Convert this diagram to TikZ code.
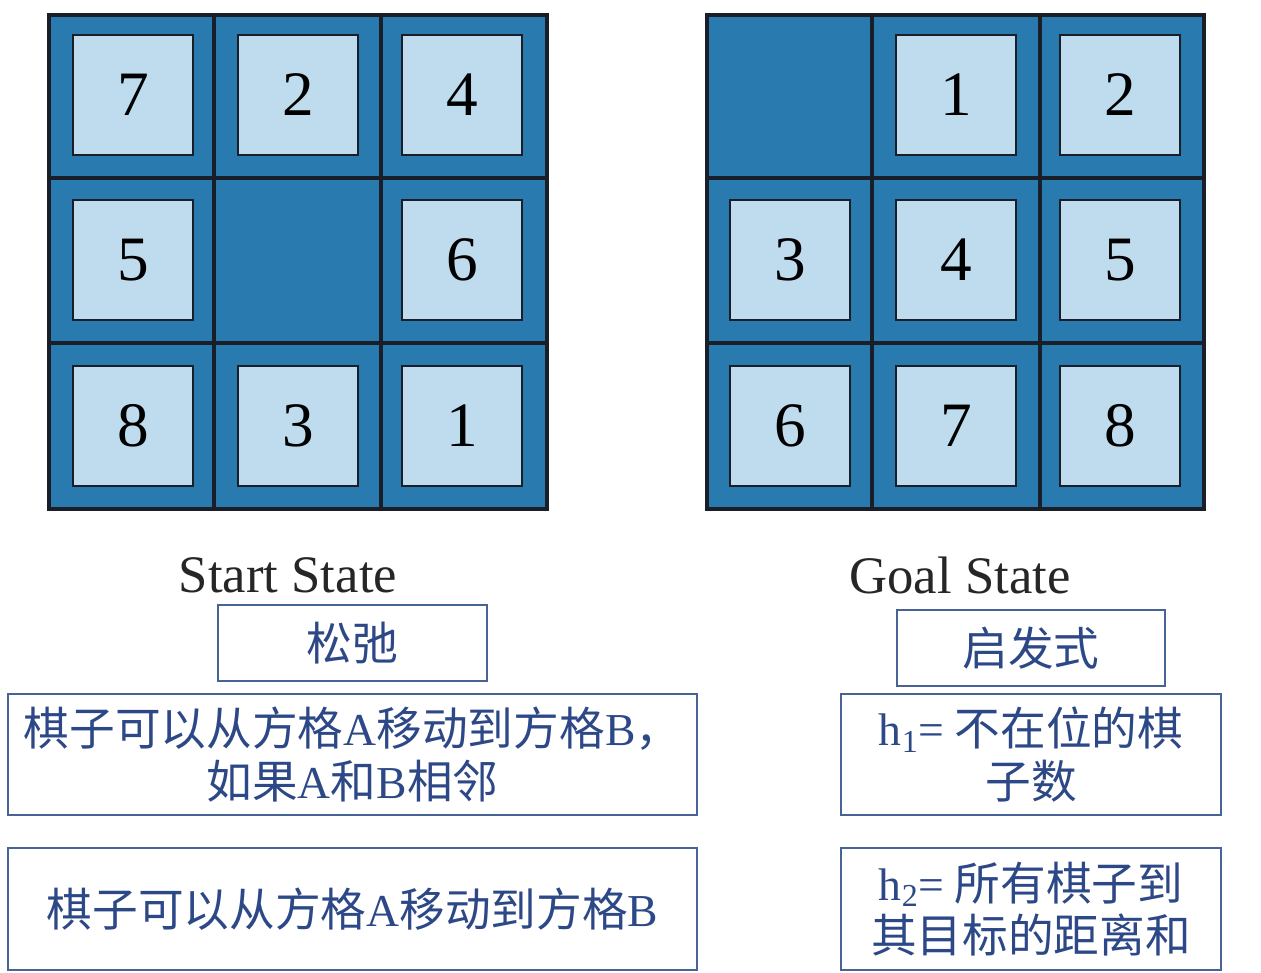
\documentclass[tikz,border=0pt]{standalone}
\usepackage{fontspec}
\setmainfont{Liberation Serif}
\newfontfamily\cjk{Noto Sans CJK SC}
\definecolor{cellblue}{RGB}{41,122,174}
\definecolor{tileblue}{RGB}{190,220,238}
\definecolor{gridline}{RGB}{25,30,40}
\definecolor{textblue}{RGB}{45,72,135}
\definecolor{boxline}{RGB}{72,100,150}
\tikzset{
  tile/.style={draw=gridline, line width=1.6pt, fill=tileblue, minimum size=2.4cm, inner sep=0pt, font=\fontsize{36}{40}\selectfont},
  board/.style={fill=cellblue, draw=gridline, line width=2.2pt},
  statelabel/.style={font=\fontsize{30}{34}\selectfont, text=black!85},
  infobox/.style={draw=boxline, line width=1.1pt, text=textblue, align=center, inner sep=0pt, font=\fontsize{26}{30}\selectfont\cjk}
}
\begin{document}
\begin{tikzpicture}[x=0.02cm, y=-0.02cm]
\useasboundingbox (0,0) rectangle (1261,973);
% Boards
\filldraw[board] (49,15) rectangle (547,509);
\draw[gridline, line width=2.2pt] (214,15) -- (214,509);
\draw[gridline, line width=2.2pt] (381,15) -- (381,509);
\draw[gridline, line width=2.2pt] (49,178) -- (547,178);
\draw[gridline, line width=2.2pt] (49,343) -- (547,343);
\filldraw[board] (707,15) rectangle (1204,509);
\draw[gridline, line width=2.2pt] (872,15) -- (872,509);
\draw[gridline, line width=2.2pt] (1040,15) -- (1040,509);
\draw[gridline, line width=2.2pt] (707,178) -- (1204,178);
\draw[gridline, line width=2.2pt] (707,343) -- (1204,343);
% Start tiles
\node[tile] (s7) at (133,95) {7};
\node[tile] (s2) at (298,95) {2};
\node[tile] (s4) at (462,95) {4};
\node[tile] (s5) at (133,260) {5};
\node[tile] (s6) at (462,260) {6};
\node[tile] (s8) at (133,426) {8};
\node[tile] (s3) at (298,426) {3};
\node[tile] (s1) at (462,426) {1};
% Goal tiles
\node[tile] (g1) at (956,95) {1};
\node[tile] (g2) at (1120,95) {2};
\node[tile] (g3) at (790,260) {3};
\node[tile] (g4) at (956,260) {4};
\node[tile] (g5) at (1120,260) {5};
\node[tile] (g6) at (790,426) {6};
\node[tile] (g7) at (956,426) {7};
\node[tile] (g8) at (1120,426) {8};
% Labels
\node[statelabel] (startlabel) at (288,575) {Start State};
\node[statelabel] (goallabel) at (960,575) {Goal State};
% Boxes
\node[infobox, minimum width=5.38cm, minimum height=1.52cm] (relax) at (352.5,643) {松弛};
\node[infobox, minimum width=5.36cm, minimum height=1.52cm] (heur) at (1031,648) {启发式};
\node[infobox, minimum width=13.78cm, minimum height=2.42cm] (relaxa) at (352.5,754.5)
  {棋子可以从方格{\rmfamily A}移动到方格{\rmfamily B}，\\如果{\rmfamily A}和{\rmfamily B}相邻};
\node[infobox, minimum width=13.78cm, minimum height=2.44cm] (relaxb) at (352.5,909)
  {棋子可以从方格{\rmfamily A}移动到方格{\rmfamily B}};
\node[infobox, minimum width=7.6cm, minimum height=2.42cm] (hone) at (1031,754.5)
  {{\rmfamily h\textsubscript{1}=} 不在位的棋\\子数};
\node[infobox, minimum width=7.6cm, minimum height=2.44cm] (htwo) at (1031,909)
  {{\rmfamily h\textsubscript{2}=} 所有棋子到\\其目标的距离和};
\end{tikzpicture}
\end{document}
